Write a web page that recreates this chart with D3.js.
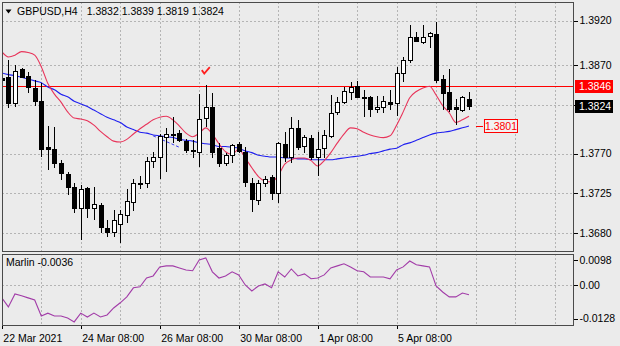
<!DOCTYPE html>
<html>
<head>
<meta charset="utf-8">
<script src="https://cdn.jsdelivr.net/npm/d3@7"></script>
<style>
  html, body { margin: 0; padding: 0; background: #ebebeb; }
  svg { display: block; font-family: "Liberation Sans", Arial, sans-serif; }
</style>
</head>
<body>
<svg id="chart" width="620" height="346"></svg>
<script>
// GBPUSD H4 candles, 22 Mar 08:00 .. 7 Apr 04:00
const symbolName = "GBPUSD,H4";
const opens  = [1.3855,1.3856,1.3827,1.3865,1.3857,1.3844,1.3829,1.3777,1.3775,1.3759,1.3747,1.3732,1.3709,1.3731,1.3709,1.3712,1.3686,1.3681,1.3690,1.3701,1.3715,1.3736,1.3737,1.3762,1.3766,1.3789,1.3792,1.3793,1.3784,1.3774,1.3772,1.3810,1.3822,1.3776,1.3759,1.3768,1.3781,1.3772,1.3737,1.3718,1.3737,1.3743,1.3725,1.3781,1.3766,1.3799,1.3778,1.3788,1.3766,1.3776,1.3790,1.3817,1.3828,1.3839,1.3846,1.3834,1.3834,1.3820,1.3822,1.3828,1.3827,1.3861,1.3876,1.3901,1.3896,1.3903,1.3905,1.3854,1.3839,1.3822,1.3819,1.3832];
const highs  = [1.3873,1.3876,1.3870,1.3867,1.3862,1.3853,1.3850,1.3801,1.3800,1.3763,1.3749,1.3737,1.3735,1.3732,1.3732,1.3714,1.3695,1.3706,1.3706,1.3730,1.3741,1.3745,1.3766,1.3772,1.3792,1.3799,1.3811,1.3797,1.3786,1.3785,1.3837,1.3847,1.3838,1.3782,1.3771,1.3781,1.3783,1.3777,1.3742,1.3740,1.3745,1.3746,1.3783,1.3794,1.3811,1.3808,1.3791,1.3791,1.3794,1.3797,1.3836,1.3834,1.3845,1.3851,1.3852,1.3842,1.3835,1.3835,1.3835,1.3842,1.3868,1.3879,1.3915,1.3907,1.3915,1.3907,1.3918,1.3859,1.3865,1.3832,1.3835,1.3839];
const lows   = [1.3845,1.3821,1.3823,1.3855,1.3838,1.3824,1.3766,1.3751,1.3754,1.3740,1.3723,1.3703,1.3672,1.3697,1.3695,1.3680,1.3676,1.3676,1.3669,1.3692,1.3705,1.3730,1.3731,1.3754,1.3741,1.3749,1.3782,1.3783,1.3771,1.3765,1.3755,1.3800,1.3765,1.3755,1.3756,1.3759,1.3771,1.3732,1.3704,1.3712,1.3732,1.3718,1.3714,1.3760,1.3759,1.3774,1.3771,1.3763,1.3745,1.3765,1.3788,1.3814,1.3826,1.3830,1.3833,1.3811,1.3811,1.3816,1.3816,1.3819,1.3812,1.3851,1.3872,1.3896,1.3894,1.3889,1.3850,1.3819,1.3817,1.3802,1.3817,1.3819];
const closes = [1.3853,1.3827,1.3863,1.3856,1.3845,1.3829,1.3775,1.3775,1.3759,1.3748,1.3732,1.3708,1.3730,1.3708,1.3713,1.3687,1.3681,1.3695,1.3702,1.3716,1.3737,1.3737,1.3762,1.3766,1.3790,1.3792,1.3791,1.3785,1.3774,1.3773,1.3809,1.3823,1.3772,1.3759,1.3768,1.3780,1.3773,1.3738,1.3719,1.3737,1.3741,1.3725,1.3782,1.3766,1.3799,1.3777,1.3789,1.3766,1.3775,1.3791,1.3816,1.3828,1.3840,1.3845,1.3834,1.3833,1.3820,1.3823,1.3829,1.3826,1.3861,1.3876,1.3902,1.3897,1.3902,1.3906,1.3853,1.3838,1.3820,1.3820,1.3834,1.3824];

// moving averages (fast: red, slow: blue)
const fastMA = [1.3885,1.3879,1.3881,1.3885,1.3884,1.3881,1.3868,1.3849,1.3837,1.3828,1.3817,1.3810,1.3809,1.3807,1.3802,1.3795,1.3789,1.3784,1.3783,1.3786,1.3792,1.3798,1.3803,1.3808,1.3811,1.3812,1.3808,1.3801,1.3793,1.3789,1.3793,1.3799,1.3792,1.3781,1.3772,1.3769,1.3775,1.3765,1.3754,1.3744,1.3739,1.3738,1.3745,1.3758,1.3763,1.3765,1.3765,1.3762,1.3756,1.3762,1.3771,1.3782,1.3792,1.3799,1.3798,1.3794,1.3791,1.3789,1.3788,1.3790,1.3802,1.3817,1.3833,1.3840,1.3844,1.3846,1.3836,1.3824,1.3816,1.3805,1.3808,1.3812];
const slowMA = [1.3861,1.3859,1.3858,1.3856,1.3854,1.3852,1.3850,1.3845,1.3842,1.3837,1.3834,1.3829,1.3826,1.3823,1.3819,1.3815,1.3811,1.3808,1.3805,1.3800,1.3797,1.3794,1.3793,1.3791,1.3790,1.3789,1.3788,1.3786,1.3785,1.3784,1.3782,1.3781,1.3780,1.3778,1.3778,1.3777,1.3776,1.3773,1.3771,1.3768,1.3767,1.3766,1.3766,1.3765,1.3765,1.3764,1.3764,1.3763,1.3763,1.3763,1.3763,1.3764,1.3765,1.3766,1.3767,1.3768,1.3770,1.3771,1.3773,1.3775,1.3776,1.3780,1.3782,1.3785,1.3788,1.3791,1.3793,1.3794,1.3795,1.3797,1.3799,1.3801];

// Marlin oscillator
const marlin = [-0.0048,-0.0083,-0.0033,-0.0040,-0.0048,-0.0056,-0.0118,-0.0107,-0.0118,-0.0118,-0.0126,-0.0141,-0.0107,-0.0122,-0.0107,-0.0122,-0.0114,-0.0087,-0.0067,-0.0044,-0.0009,-0.0005,0.0029,0.0037,0.0072,0.0076,0.0076,0.0068,0.0060,0.0057,0.0099,0.0107,0.0053,0.0029,0.0037,0.0053,0.0041,0.0002,-0.0021,-0.0002,0.0006,-0.0009,0.0053,0.0033,0.0064,0.0037,0.0045,0.0026,0.0029,0.0041,0.0068,0.0076,0.0084,0.0072,0.0057,0.0053,0.0033,0.0033,0.0033,0.0026,0.0060,0.0072,0.0095,0.0080,0.0076,0.0072,-0.0002,-0.0025,-0.0044,-0.0044,-0.0029,-0.0036];

const timeTickBars = [0, 12, 24, 36, 48, 60];
const timeTickLabels = ["22 Mar 2021", "24 Mar 08:00", "26 Mar 08:00", "30 Mar 08:00", "1 Apr 08:00", "5 Apr 08:00"];
const priceTicks = [1.3920, 1.3870, 1.3825, 1.3770, 1.3725, 1.3680];
const marlinTicks = [0.0098, 0, -0.0128];
const marlinTickLabels = ["0.0098", "0.00", "-0.0128"];

const levelPrice = 1.3846;        // horizontal level
const maLabelPrice = 1.3801;      // slow MA price tag
const trendBars = [23, 27];       // short dashed trend segment
const trendPrices = [1.3790, 1.3777];
const markBar = 31, markPrice = 1.3863;

// ---- layout ----
const svg = d3.select("#chart");
const W = 620, H = 346;
const main = { left: 2, right: 573, top: 2, bottom: 251 };
const sub  = { top: 254, bottom: 325 };
const n = closes.length;

const x = d3.scaleLinear().domain([0, n - 1]).range([1.8, 1.8 + (n - 1) * 6.58]);
const y = d3.scaleLinear().domain([1.3660, 1.3941]).range([main.bottom, main.top]);
const ySub = d3.scaleLinear().domain([-0.0153, 0.0122]).range([sub.bottom, sub.top]);

const bg = "#ebebeb", gridCol = "#b4b4b4", frameCol = "#4a4a4a";
svg.append("rect").attr("width", W).attr("height", H).attr("fill", bg);

const defs = svg.append("defs");
defs.append("clipPath").attr("id", "clipMain").append("rect")
  .attr("x", main.left).attr("y", main.top)
  .attr("width", main.right - main.left).attr("height", main.bottom - main.top);
defs.append("clipPath").attr("id", "clipSub").append("rect")
  .attr("x", main.left).attr("y", sub.top)
  .attr("width", main.right - main.left).attr("height", sub.bottom - sub.top);

const px = v => Math.round(v) + 0.5;

// ---- grid ----
const grid = svg.append("g").attr("stroke", gridCol).attr("stroke-dasharray", "2,2")
  .attr("shape-rendering", "crispEdges");
const vGridBars = d3.range(6, 90, 6);
vGridBars.forEach(b => {
  const gx = px(x(b));
  if (gx >= main.right) return;
  grid.append("line").attr("x1", gx).attr("x2", gx).attr("y1", main.top).attr("y2", main.bottom);
  grid.append("line").attr("x1", gx).attr("x2", gx).attr("y1", sub.top).attr("y2", sub.bottom);
});
priceTicks.forEach(p => {
  grid.append("line").attr("x1", main.left).attr("x2", main.right)
    .attr("y1", px(y(p))).attr("y2", px(y(p)));
});
grid.append("line").attr("x1", main.left).attr("x2", main.right)
  .attr("y1", px(ySub(0))).attr("y2", px(ySub(0)));

// ---- main panel ----
const gm = svg.append("g").attr("clip-path", "url(#clipMain)");

// level line
gm.append("line").attr("x1", main.left).attr("x2", main.right)
  .attr("y1", px(y(levelPrice))).attr("y2", px(y(levelPrice)))
  .attr("stroke", "#ff0000").attr("stroke-width", 1).attr("shape-rendering", "crispEdges");

// moving averages
const maLine = d3.line().x((d, i) => x(i)).y(d => y(d)).curve(d3.curveMonotoneX);
gm.append("path").datum(slowMA).attr("d", maLine)
  .attr("fill", "none").attr("stroke", "#1e1ef0").attr("stroke-width", 1.1);
gm.append("path").datum(fastMA).attr("d", maLine)
  .attr("fill", "none").attr("stroke", "#e8345a").attr("stroke-width", 1.1);

// dashed trend segment
gm.append("line")
  .attr("x1", x(trendBars[0])).attr("y1", y(trendPrices[0]))
  .attr("x2", x(trendBars[1])).attr("y2", y(trendPrices[1]))
  .attr("stroke", "#3a3af0").attr("stroke-dasharray", "3,2").attr("stroke-width", 1);

// candles
const candles = gm.append("g").attr("shape-rendering", "crispEdges");
d3.range(n).forEach(i => {
  const cx = px(x(i));
  const o = opens[i], c = closes[i];
  const bull = c >= o;
  candles.append("line").attr("x1", cx).attr("x2", cx)
    .attr("y1", y(highs[i])).attr("y2", y(lows[i])).attr("stroke", "#000");
  const top = Math.round(y(Math.max(o, c)));
  const bot = Math.round(y(Math.min(o, c)));
  const h = Math.max(1, bot - top);
  candles.append("rect")
    .attr("x", cx - 2).attr("y", top + 0.5).attr("width", 4).attr("height", h)
    .attr("fill", bull ? "#ffffff" : "#000000").attr("stroke", "#000");
});

// check mark above the swing high
const mx = x(markBar), my = y(markPrice);
gm.append("path")
  .attr("d", `M${mx - 4},${my - 1} L${mx - 1.5},${my + 2.5} L${mx + 4},${my - 4}`)
  .attr("fill", "none").attr("stroke", "#ff2020").attr("stroke-width", 1.8);

// slow MA price tag
const tagY = y(maLabelPrice);
const tagX = x(n - 1) + 7;
svg.append("line").attr("x1", tagX).attr("x2", tagX + 7)
  .attr("y1", px(tagY)).attr("y2", px(tagY)).attr("stroke", "#ff0000");
svg.append("rect").attr("x", tagX + 8.5).attr("y", Math.round(tagY) - 6.5)
  .attr("width", 33).attr("height", 13).attr("fill", "#f2f2f2").attr("stroke", "#ff0000");
svg.append("text").attr("x", tagX + 25).attr("y", tagY + 4)
  .attr("text-anchor", "middle").attr("font-size", 10.5).attr("fill", "#ff0000")
  .text(maLabelPrice.toFixed(4));

// title: symbol, then last bar OHLC
svg.append("path").attr("d", "M5.5,9.5 L11.5,9.5 L8.5,13.5 Z").attr("fill", "#000");
const last = n - 1;
const titleText = svg.append("text").attr("x", 17).attr("y", 15).attr("font-size", 10.5)
  .attr("fill", "#000").text(symbolName);
const titleEnd = 17 + titleText.node().getComputedTextLength();
svg.append("text").attr("x", titleEnd + 9).attr("y", 15).attr("font-size", 10.5).attr("fill", "#000")
  .attr("xml:space", "preserve").style("white-space", "pre")
  .text([opens[last], highs[last], lows[last], closes[last]].map(v => v.toFixed(4)).join(" "));

// ---- sub panel ----
const gs = svg.append("g").attr("clip-path", "url(#clipSub)");
gs.append("path").datum(marlin)
  .attr("d", d3.line().x((d, i) => x(i)).y(d => ySub(d)))
  .attr("fill", "none").attr("stroke", "#a23ca8").attr("stroke-width", 1.1);
svg.append("text").attr("x", 6).attr("y", 266).attr("font-size", 10.5).attr("fill", "#000")
  .text("Marlin " + marlin[last].toFixed(4));

// ---- frames ----
svg.append("rect").attr("x", main.left + 0.5).attr("y", main.top + 0.5)
  .attr("width", main.right - main.left).attr("height", main.bottom - main.top)
  .attr("fill", "none").attr("stroke", frameCol).attr("shape-rendering", "crispEdges");
svg.append("rect").attr("x", main.left + 0.5).attr("y", sub.top + 0.5)
  .attr("width", main.right - main.left).attr("height", sub.bottom - sub.top)
  .attr("fill", "none").attr("stroke", frameCol).attr("shape-rendering", "crispEdges");

// ---- axes ----
const styleAxis = g => {
  g.select(".domain").remove();
  g.selectAll(".tick line").attr("stroke", "#000").attr("shape-rendering", "crispEdges");
  g.selectAll(".tick text").attr("fill", "#000").attr("font-size", 10.5)
    .attr("font-family", "Liberation Sans, Arial, sans-serif");
};

svg.append("g").attr("transform", `translate(${main.right + 0.5},0)`)
  .call(d3.axisRight(y).tickValues(priceTicks).tickSize(4).tickPadding(2)
    .tickFormat(d3.format(".4f")))
  .call(styleAxis);

svg.append("g").attr("transform", `translate(${main.right + 0.5},0)`)
  .call(d3.axisRight(ySub).tickValues(marlinTicks).tickSize(4).tickPadding(2)
    .tickFormat((d, i) => marlinTickLabels[i]))
  .call(styleAxis);

svg.append("g").attr("transform", `translate(0,${sub.bottom + 0.5})`)
  .call(d3.axisBottom(x).tickValues(timeTickBars).tickSize(3).tickPadding(4)
    .tickFormat((d, i) => timeTickLabels[i]))
  .call(styleAxis)
  .call(g => g.selectAll(".tick line").attr("x1", 0.5).attr("x2", 0.5))
  .call(g => g.selectAll(".tick text").attr("text-anchor", "start").attr("x", 1).attr("dy", "0.9em"));

// price tags on the scale
const tag = (price, fill) => {
  const ty = Math.round(y(price));
  svg.append("rect").attr("x", main.right + 2).attr("y", ty - 6)
    .attr("width", 38).attr("height", 13).attr("fill", fill);
  svg.append("text").attr("x", main.right + 6).attr("y", ty + 4)
    .attr("font-size", 10.5).attr("fill", "#fff").text(price.toFixed(4));
};
tag(levelPrice, "#ff0000");
tag(closes[last], "#000000");
</script>
</body>
</html>
